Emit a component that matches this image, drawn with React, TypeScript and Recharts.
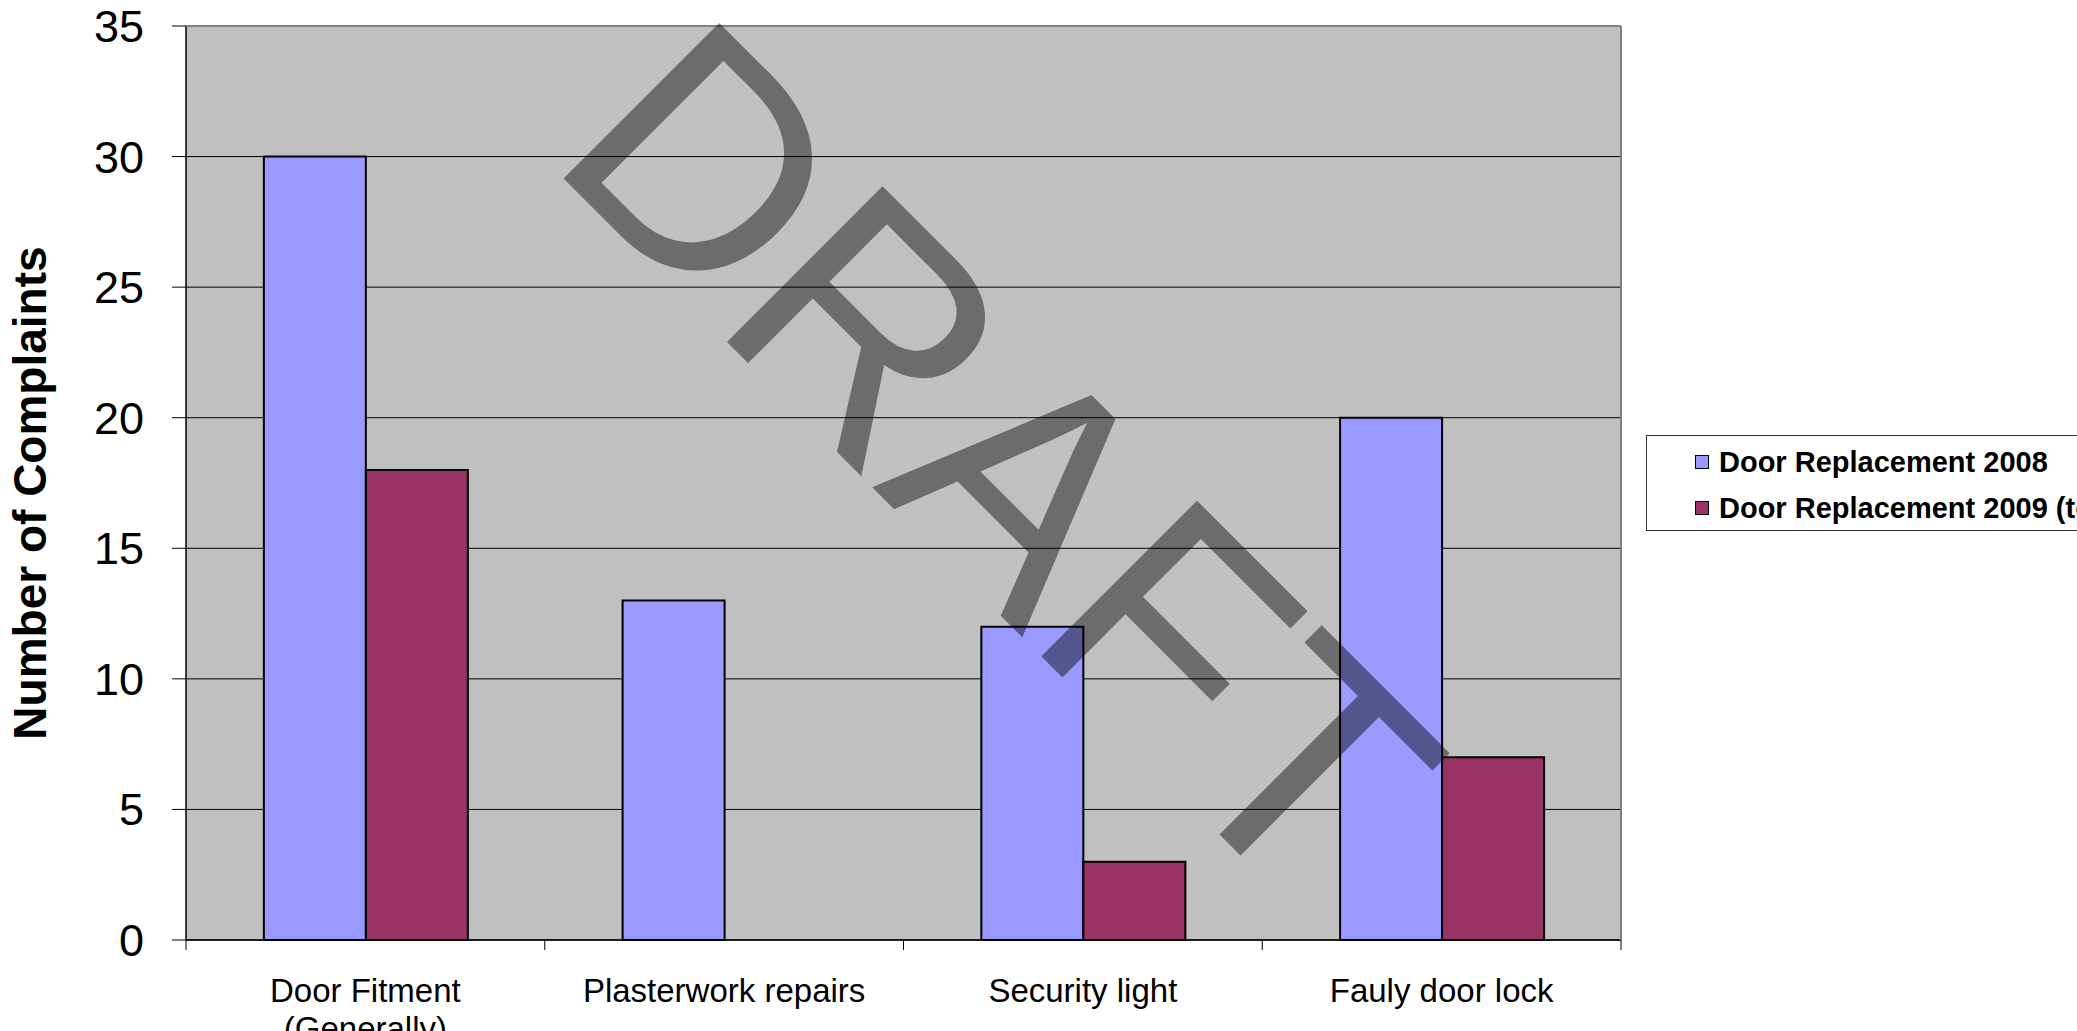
import React from "react";
import { Bar, BarChart, CartesianGrid, Legend, XAxis, YAxis } from "recharts";

const categories = ["Door Fitment (Generally)", "Plasterwork repairs", "Security light", "Fauly door lock"];
const seriesNames = ["Door Replacement 2008", "Door Replacement 2009 (to date)"];
const complaints2008 = [30, 13, 12, 20];
const complaints2009 = [18, 0, 3, 7];
const yTicks = [0, 5, 10, 15, 20, 25, 30, 35];

const colors = ["#9999ff", "#993366"];
const FONT = "'Liberation Sans', Arial, sans-serif";

const data = categories.map((name, i) => ({
  name,
  s2008: complaints2008[i],
  s2009: complaints2009[i]
}));

// plot box (layout only)
const W = 2077;
const H = 1031;
const PLOT = { left: 186, right: 1621, top: 26, bottom: 940 };

// wrap a label into lines of at most maxChars characters
function wrapLabel(label: string, maxChars: number) {
  const lines: string[] = [];
  let cur = "";
  for (const word of label.split(" ")) {
    const next = cur ? cur + " " + word : word;
    if (next.length > maxChars && cur) {
      lines.push(cur);
      cur = word;
    } else {
      cur = next;
    }
  }
  if (cur) lines.push(cur);
  return lines;
}

function CategoryTick(props: any) {
  const { x, y, payload, index } = props;
  const half = payload?.offset ?? 0;
  const last = index === categories.length - 1;
  const lines = wrapLabel(String(payload.value), 20);
  return (
    <g>
      <line x1={x - half} x2={x - half} y1={y} y2={y + 10} stroke="#000" strokeWidth={1} />
      {last && <line x1={x + half} x2={x + half} y1={y} y2={y + 10} stroke="#000" strokeWidth={1} />}
      <text x={x} y={y + 62} textAnchor="middle" fontSize={33} fontFamily={FONT} fill="#000">
        {lines.map((line, i) => (
          <tspan key={i} x={x} dy={i === 0 ? 0 : 38}>
            {line}
          </tspan>
        ))}
      </text>
    </g>
  );
}

function LegendBox(props: any) {
  const items = props.payload || [];
  return (
    <div
      style={{
        boxSizing: "border-box",
        width: 560,
        height: 96,
        border: "1px solid #333",
        background: "#fff",
        paddingTop: 3
      }}
    >
      {items.map((item: any) => (
        <div key={item.value} style={{ display: "flex", alignItems: "center", height: 46 }}>
          <span
            style={{
              display: "inline-block",
              boxSizing: "border-box",
              marginLeft: 48,
              width: 14,
              height: 14,
              border: "1px solid #000",
              background: item.color
            }}
          />
          <span
            style={{
              marginLeft: 10,
              fontFamily: FONT,
              fontWeight: "bold",
              fontSize: 29,
              color: "#000",
              whiteSpace: "nowrap"
            }}
          >
            {item.value}
          </span>
        </div>
      ))}
    </div>
  );
}

export default function App() {
  return (
    <div style={{ position: "absolute", left: 0, top: 0, width: W, height: H, background: "#fff", overflow: "hidden" }}>
      <BarChart
        width={W}
        height={H}
        data={data}
        margin={{ top: PLOT.top, right: W - PLOT.right, bottom: 0, left: 0 }}
        barCategoryGap="21.7%"
        barGap={0}
      >
        <CartesianGrid horizontal vertical={false} stroke="#000" strokeWidth={1} fill="#c0c0c0" fillOpacity={1} />
        <XAxis
          dataKey="name"
          height={H - PLOT.bottom}
          interval={0}
          tickSize={0}
          tickMargin={0}
          tickLine={false}
          axisLine={{ stroke: "#000", strokeWidth: 1.5 }}
          tick={<CategoryTick />}
        />
        <YAxis
          domain={[0, 35]}
          ticks={yTicks}
          interval={0}
          width={PLOT.left}
          tickSize={14}
          tickMargin={28}
          axisLine={{ stroke: "#000", strokeWidth: 1.5 }}
          tickLine={{ stroke: "#000" }}
          tick={{ fill: "#000", fontSize: 45, fontFamily: FONT }}
          label={{
            value: "Number of Complaints",
            content: () => (
              <text
                x={46}
                y={493}
                transform="rotate(-90 46 493)"
                textAnchor="middle"
                fontFamily={FONT}
                fontWeight="bold"
                fontSize={46}
                fill="#000"
              >
                Number of Complaints
              </text>
            )
          }}
        />
        <Legend
          layout="horizontal"
          align="center"
          verticalAlign="middle"
          wrapperStyle={{ position: "absolute", left: 1646, top: 435, width: W - 1646, height: 96, overflow: "hidden" }}
          content={<LegendBox />}
        />
        <Bar dataKey="s2008" name={seriesNames[0]} fill={colors[0]} stroke="#000" strokeWidth={2} isAnimationActive={false} />
        <Bar dataKey="s2009" name={seriesNames[1]} fill={colors[1]} stroke="#000" strokeWidth={2} isAnimationActive={false} />
      </BarChart>
      <svg width={W} height={H} style={{ position: "absolute", left: 0, top: 0, pointerEvents: "none" }}>
        <line x1={PLOT.left} x2={PLOT.right} y1={PLOT.top} y2={PLOT.top} stroke="#808080" strokeWidth={2} />
        <line x1={PLOT.right} x2={PLOT.right} y1={PLOT.top} y2={PLOT.bottom} stroke="#808080" strokeWidth={2} />
        <text
          x={545}
          y={160}
          transform="rotate(45 545 160)"
          fontFamily={FONT}
          fontSize={320}
          fill="#000"
          fillOpacity={0.44}
        >
          DRAFT
        </text>
      </svg>
    </div>
  );
}
